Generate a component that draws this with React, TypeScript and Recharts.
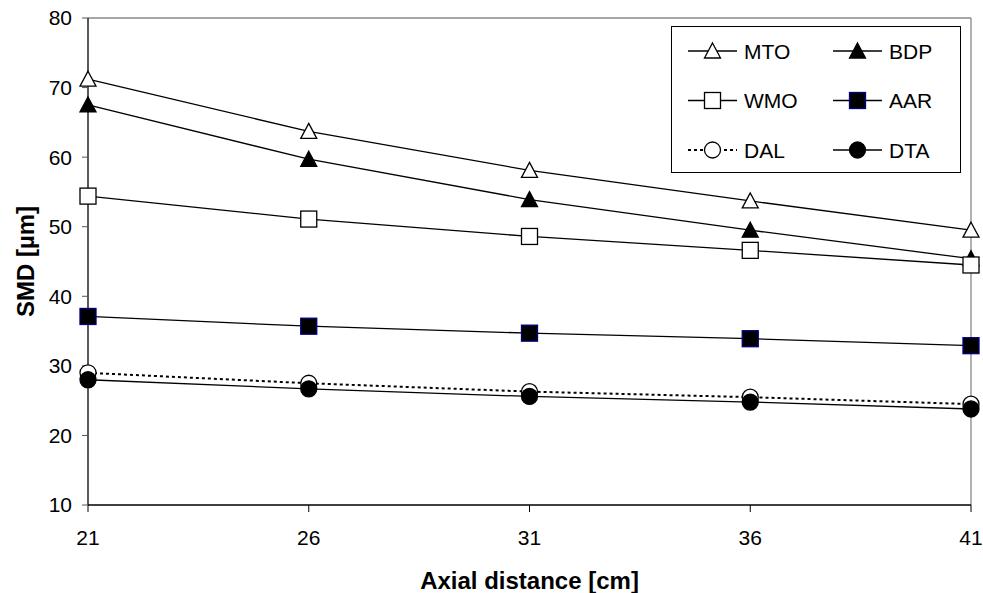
import React from 'react';
import {
  LineChart,
  Line,
  XAxis,
  YAxis,
  ReferenceLine,
} from 'recharts';

const distances = [21, 26, 31, 36, 41];
const mto = [71.2, 63.7, 58.1, 53.7, 49.5];
const bdp = [67.5, 59.7, 53.9, 49.5, 45.4];
const wmo = [54.4, 51.1, 48.6, 46.6, 44.5];
const aar = [37.1, 35.7, 34.7, 33.9, 32.9];
const dal = [29.0, 27.5, 26.3, 25.5, 24.5];
const dta = [28.0, 26.7, 25.6, 24.8, 23.8];
const xTicks = [21, 26, 31, 36, 41];
const yTicks = [10, 20, 30, 40, 50, 60, 70, 80];

const data = distances.map((d, i) => ({
  x: d,
  MTO: mto[i],
  BDP: bdp[i],
  WMO: wmo[i],
  AAR: aar[i],
  DAL: dal[i],
  DTA: dta[i],
}));

const FONT = 'Arial, "Liberation Sans", sans-serif';

type Kind = 'triOpen' | 'triFill' | 'sqOpen' | 'sqFill' | 'circOpen' | 'circFill';

const Marker = ({ kind, cx, cy }: { kind: Kind; cx: number; cy: number }) => {
  const s = 8;
  switch (kind) {
    case 'triOpen':
    case 'triFill': {
      const pts = `${cx},${cy - s} ${cx + s},${cy + 7} ${cx - s},${cy + 7}`;
      return (
        <polygon
          points={pts}
          fill={kind === 'triFill' ? '#000' : '#fff'}
          stroke="#000"
          strokeWidth={1.3}
        />
      );
    }
    case 'sqOpen':
      return <rect x={cx - s} y={cy - s} width={2 * s} height={2 * s} fill="#fff" stroke="#000" strokeWidth={1.3} />;
    case 'sqFill':
      return <rect x={cx - s} y={cy - s} width={2 * s} height={2 * s} fill="#000" stroke="#000080" strokeWidth={1.3} />;
    case 'circOpen':
      return <circle cx={cx} cy={cy} r={s} fill="#fff" stroke="#000" strokeWidth={1.3} />;
    default:
      return <circle cx={cx} cy={cy} r={s} fill="#000" stroke="#000" strokeWidth={1.3} />;
  }
};

const dotFor = (kind: Kind) => (props: any) => (
  <Marker key={`${kind}-${props.index}`} kind={kind} cx={props.cx} cy={props.cy} />
);

const series: { key: string; kind: Kind; dash?: string }[] = [
  { key: 'MTO', kind: 'triOpen' },
  { key: 'BDP', kind: 'triFill' },
  { key: 'WMO', kind: 'sqOpen' },
  { key: 'AAR', kind: 'sqFill' },
  { key: 'DAL', kind: 'circOpen', dash: '3 3' },
  { key: 'DTA', kind: 'circFill' },
];

const legendRows = [
  [series[0], series[1]],
  [series[2], series[3]],
  [series[4], series[5]],
];

// legend drawn as an overlay so it does not shrink the plot area
const LegendBox = () => (
  <svg width={290} height={147} style={{ display: 'block' }}>
    <rect x={0.5} y={0.5} width={289} height={146} fill="#fff" stroke="#000" strokeWidth={1} />
    {legendRows.map((row, r) =>
      row.map((s, c) => {
        const x0 = c === 0 ? 17 : 162;
        const y = 25 + r * 49.5;
        return (
          <g key={s.key}>
            <line
              x1={x0}
              x2={x0 + 49}
              y1={y}
              y2={y}
              stroke="#000"
              strokeWidth={s.dash ? 2 : 1.3}
              strokeDasharray={s.dash}
            />
            <Marker kind={s.kind} cx={x0 + 24.5} cy={y} />
            <text
              x={x0 + 56}
              y={y + 7.5}
              fontSize={21}
              fontFamily={FONT}
              fill="#000"
            >
              {s.key}
            </text>
          </g>
        );
      })
    )}
  </svg>
);

const YTitle = (props: any) => {
  const { x, y, height } = props.viewBox;
  const cx = x + 25;
  const cy = y + height / 2;
  return (
    <text
      x={cx}
      y={cy}
      transform={`rotate(-90 ${cx} ${cy})`}
      textAnchor="middle"
      dominantBaseline="central"
      fontSize={24}
      fontWeight="bold"
      fontFamily={FONT}
      fill="#000"
    >
      SMD [µm]
    </text>
  );
};

const XTitle = (props: any) => {
  const { x, y, width } = props.viewBox;
  return (
    <text
      x={x + width / 2}
      y={y + 75}
      textAnchor="middle"
      dominantBaseline="central"
      fontSize={24}
      fontWeight="bold"
      fontFamily={FONT}
      fill="#000"
    >
      Axial distance [cm]
    </text>
  );
};

export default function App() {
  return (
    <div style={{ position: 'absolute', left: 0, top: 0, width: 983, height: 593, fontFamily: FONT, background: '#fff' }}>
      <LineChart
        width={983}
        height={593}
        data={data}
        margin={{ top: 18, right: 12, left: 0, bottom: 0 }}
      >
        <XAxis
          dataKey="x"
          type="number"
          domain={[21, 41]}
          ticks={xTicks}
          interval={0}
          height={88}
          axisLine={{ stroke: '#000', strokeWidth: 1.5 }}
          tickLine={{ stroke: '#000' }}
          tickSize={7}
          tickMargin={18}
          tick={{ fill: '#000', fontSize: 21, fontFamily: FONT }}
          label={{ content: <XTitle /> }}
        />
        <YAxis
          type="number"
          domain={[10, 80]}
          ticks={yTicks}
          interval={0}
          width={88}
          axisLine={{ stroke: '#000', strokeWidth: 1.3 }}
          tickLine={{ stroke: '#555' }}
          tickSize={6}
          tickMargin={10}
          tick={{ fill: '#000', fontSize: 21, fontFamily: FONT }}
          label={{ content: <YTitle /> }}
        />
        <ReferenceLine y={80} stroke="#888" strokeWidth={1.3} />
        <ReferenceLine x={41} stroke="#888" strokeWidth={1.3} />
        {series.map((s) => (
          <Line
            key={s.key}
            type="linear"
            dataKey={s.key}
            stroke="#000"
            strokeWidth={s.dash ? 2 : 1.3}
            strokeDasharray={s.dash}
            dot={dotFor(s.kind)}
            activeDot={false}
            isAnimationActive={false}
          />
        ))}
      </LineChart>
      <div style={{ position: 'absolute', left: 671, top: 26 }}>
        <LegendBox />
      </div>
    </div>
  );
}
